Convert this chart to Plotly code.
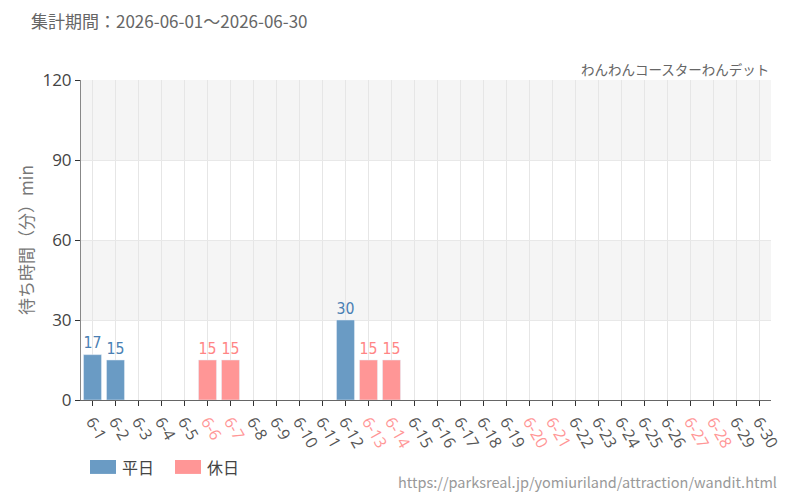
import plotly.graph_objects as go

days = [f"6-{d}" for d in range(1, 31)]
holidays = ["6-6", "6-7", "6-13", "6-14", "6-20", "6-21", "6-27", "6-28"]
weekday_vals = {"6-1": 17, "6-2": 15, "6-12": 30}
holiday_vals = {"6-6": 15, "6-7": 15, "6-13": 15, "6-14": 15}

title_text = "集計期間：2026-06-01～2026-06-30"
subtitle_text = "わんわんコースターわんデット"
url_text = "https://parksreal.jp/yomiuriland/attraction/wandit.html"
y_ticks = [0, 30, 60, 90, 120]
legend_names = ["平日", "休日"]

BLUE = "#6a9bc4"
PINK = "#ff9696"
BLUE_TXT = "#4a7fb3"
PINK_TXT = "#ff8585"
FONT = "Noto Sans CJK JP, Noto Sans, sans-serif"
NUMFONT = "Liberation Sans Narrow, DejaVu Sans Condensed, sans-serif"
TICKFONT = "Open Sans, Noto Sans, sans-serif"

wk_y = [weekday_vals.get(d) for d in days]
hd_y = [holiday_vals.get(d) for d in days]

fig = go.Figure()
fig.add_bar(x=days, y=wk_y, name=legend_names[0], marker_color=BLUE,
            text=[str(v) if v is not None else "" for v in wk_y],
            textposition="outside", cliponaxis=False,
            textfont=dict(color=BLUE_TXT, size=19, family=NUMFONT))
fig.add_bar(x=days, y=hd_y, name=legend_names[1], marker_color=PINK,
            text=[str(v) if v is not None else "" for v in hd_y],
            textposition="outside", cliponaxis=False,
            textfont=dict(color=PINK_TXT, size=19, family=NUMFONT))

ticktext = [f"<span style='color:{PINK}'>{d}</span>" if d in holidays else d for d in days]

shapes = []
for lo, hi in [(30, 60), (90, 120)]:
    shapes.append(dict(type="rect", xref="paper", yref="y", x0=0, x1=1, y0=lo, y1=hi,
                       fillcolor="#f5f5f5", line_width=0, layer="below"))

# custom legend swatches (wide rectangles like the reference)
leg_x = [0.013, 0.1362]
for lx, col in zip(leg_x, [BLUE, PINK]):
    shapes.append(dict(type="rect", xref="paper", yref="paper", x0=lx, x1=lx + 0.0377,
                       y0=-0.231, y1=-0.1875, fillcolor=col, line_width=0))

annotations = [
    dict(text=title_text, xref="paper", yref="paper", x=-0.0755, y=1.185, xanchor="left",
         yanchor="middle", showarrow=False, font=dict(size=17, color="#666666")),
    dict(text=subtitle_text, xref="paper", yref="paper", x=1, y=1.035, xanchor="right",
         yanchor="middle", showarrow=False, font=dict(size=13.5, color="#666666")),
    dict(text=url_text, xref="paper", yref="paper", x=1.012, y=-0.255, xanchor="right",
         yanchor="middle", showarrow=False, font=dict(size=14.5, color="#999999")),
]
for lx, name in zip(leg_x, legend_names):
    annotations.append(dict(text=name, xref="paper", yref="paper", x=lx + 0.043, y=-0.209,
                            xanchor="left", yanchor="middle", showarrow=False,
                            font=dict(size=16, color="#444444")))

fig.update_layout(
    width=800, height=500,
    margin=dict(l=81, r=29, t=80, b=100),
    paper_bgcolor="white", plot_bgcolor="white",
    barmode="overlay", bargap=0.22,
    font=dict(family=FONT, color="#555555", size=14),
    shapes=shapes,
    showlegend=False,
    xaxis=dict(tickmode="array", tickvals=days, ticktext=ticktext, tickangle=60,
               showgrid=True, gridcolor="#e6e6e6", ticks="outside", ticklen=5,
               tickcolor="#333333", showline=True, linecolor="#666666", automargin=False,
               tickfont=dict(size=16, color="#555555", family=TICKFONT), range=[-0.5, 29.5]),
    yaxis=dict(range=[0, 120], tickvals=y_ticks, showgrid=True, gridcolor="#e8e8e8",
               ticks="outside", ticklen=5, tickcolor="#333333", showline=True,
               linecolor="#888888", zeroline=False, automargin=False,
               tickfont=dict(size=17, color="#444444", family=TICKFONT),
               title=dict(text="待ち時間（分）min", font=dict(size=17, color="#777777"), standoff=4)),
    annotations=annotations,
)

fig.write_html("out.html")
